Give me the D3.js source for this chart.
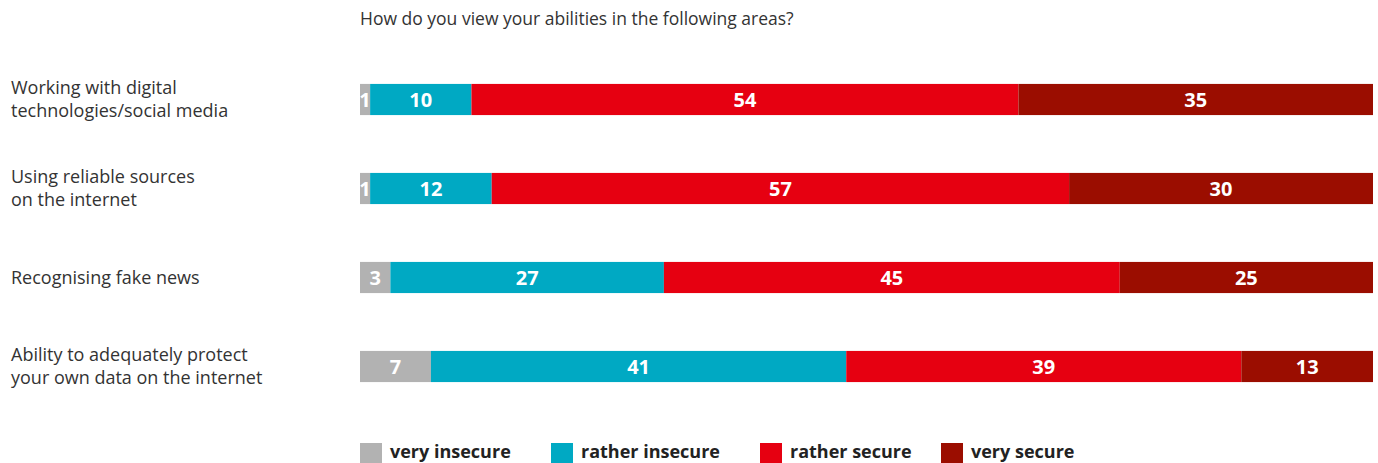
<!DOCTYPE html>
<html>
<head>
<meta charset="utf-8">
<script src="https://cdn.jsdelivr.net/npm/d3@7"></script>
<style>
  html, body { margin: 0; padding: 0; background: #fff; }
  svg { display: block; font-family: "Open Sans", "Noto Sans", sans-serif; }
</style>
</head>
<body>
<svg id="chart" width="1378" height="463"></svg>
<script>
const title = "How do you view your abilities in the following areas?";
const categories = [
  ["Working with digital", "technologies/social media"],
  ["Using reliable sources", "on the internet"],
  ["Recognising fake news"],
  ["Ability to adequately protect", "your own data on the internet"]
];
const seriesNames = ["very insecure", "rather insecure", "rather secure", "very secure"];
const veryInsecure   = [1, 1, 3, 7];
const ratherInsecure = [10, 12, 27, 41];
const ratherSecure   = [54, 57, 45, 39];
const verySecure     = [35, 30, 25, 13];
const colors = ["#b2b2b2", "#00a9c3", "#e60011", "#9b0d00"];

const svg = d3.select("#chart");

const rows = categories.map((c, i) => ({
  label: c,
  values: [veryInsecure[i], ratherInsecure[i], ratherSecure[i], verySecure[i]]
}));

const x = d3.scaleLinear().domain([0, 100]).range([360, 1373]);
const y = d3.scaleBand().domain(d3.range(rows.length)).range([55, 411]).paddingInner(0.65).paddingOuter(0.325);

svg.append("text")
  .attr("x", 360).attr("y", 25)
  .attr("font-size", 17.5).attr("fill", "#333")
  .text(title);

const g = svg.append("g");
rows.forEach((r, i) => {
  let acc = 0;
  const row = g.append("g");
  r.values.forEach((v, j) => {
    const x0 = x(acc), x1 = x(acc + v);
    acc += v;
    row.append("rect")
      .attr("x", x0).attr("y", y(i))
      .attr("width", x1 - x0).attr("height", y.bandwidth())
      .attr("fill", colors[j]);
    row.append("text")
      .attr("x", (x0 + x1) / 2).attr("y", y(i) + y.bandwidth() / 2)
      .attr("dy", "0.36em")
      .attr("text-anchor", "middle")
      .attr("font-size", 20).attr("font-weight", 700)
      .attr("fill", "#fff")
      .text(v);
  });
  const lab = svg.append("text")
    .attr("font-size", 18).attr("fill", "#333");
  const n = r.label.length;
  const cy = y(i) + y.bandwidth() / 2;
  r.label.forEach((line, k) => {
    lab.append("tspan")
      .attr("x", 11)
      .attr("y", cy + (k - (n - 1) / 2) * 23)
      .attr("dy", "0.35em")
      .text(line);
  });
});

const legendX = [360, 551, 760, 941];
const legend = svg.append("g");
seriesNames.forEach((name, j) => {
  legend.append("rect")
    .attr("x", legendX[j]).attr("y", 443)
    .attr("width", 22).attr("height", 22)
    .attr("fill", colors[j]);
  legend.append("text")
    .attr("x", legendX[j] + 30).attr("y", 458)
    .attr("font-size", 18).attr("font-weight", 700).attr("fill", "#222")
    .text(name);
});
</script>
</body>
</html>
